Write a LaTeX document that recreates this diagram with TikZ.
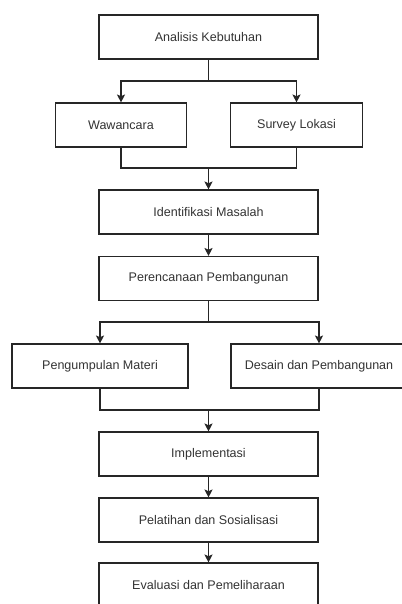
\documentclass[tikz,border=0pt]{standalone}
\usepackage{fontspec}
\setmainfont{Liberation Sans}
\usetikzlibrary{arrows.meta}
\begin{document}
\begin{tikzpicture}[x=0.75pt,y=-0.75pt,
  box/.style={draw=black!85,line width=0.8pt,fill=white,inner sep=0pt,
    minimum height=33pt,text=black!80,font=\fontsize{9.4pt}{11pt}\selectfont},
  wbig/.style={box,minimum width=164.25pt},
  wmid/.style={box,minimum width=132pt},
  wsm/.style={box,minimum width=98.5pt},
  conn/.style={draw=black!85,line width=0.8pt},
  arr/.style={conn,-{Stealth[length=6pt,width=6pt,inset=1.3pt]}}]
\useasboundingbox (0,0) rectangle (402,604);
\clip (0,0) rectangle (402,604);
\node[wbig] (A) at (208.5,37) {Analisis Kebutuhan};
\node[wsm] (W) at (121,125) {Wawancara};
\node[wsm] (S) at (296.5,125) {Survey Lokasi};
\node[wbig] (I) at (208.5,212) {Identifikasi Masalah};
\node[wbig] (P) at (208.5,278.5) {Perencanaan Pembangunan};
\node[wmid] (PM) at (100,366) {Pengumpulan Materi};
\node[wmid] (DP) at (319,366) {Desain dan Pembangunan};
\node[wbig] (Im) at (208.5,454) {Implementasi};
\node[wbig] (Pel) at (208.5,520) {Pelatihan dan Sosialisasi};
\node[wbig] (Ev) at (208.5,585) {Evaluasi dan Pemeliharaan};
\coordinate (a1) at (208.5,81);
\coordinate (m1) at (208.5,168);
\coordinate (a2) at (208.5,322);
\coordinate (m2) at (208.5,410);
\draw[conn] (A.south) -- (a1);
\draw[arr] (a1) -| (W.north);
\draw[arr] (a1) -| (S.north);
\draw[conn] (W.south) |- (m1) -| (S.south);
\draw[arr] (m1) -- (I.north);
\draw[arr] (I.south) -- (P.north);
\draw[conn] (P.south) -- (a2);
\draw[arr] (a2) -| (PM.north);
\draw[arr] (a2) -| (DP.north);
\draw[conn] (PM.south) |- (m2) -| (DP.south);
\draw[arr] (m2) -- (Im.north);
\draw[arr] (Im.south) -- (Pel.north);
\draw[arr] (Pel.south) -- (Ev.north);
\end{tikzpicture}
\end{document}
